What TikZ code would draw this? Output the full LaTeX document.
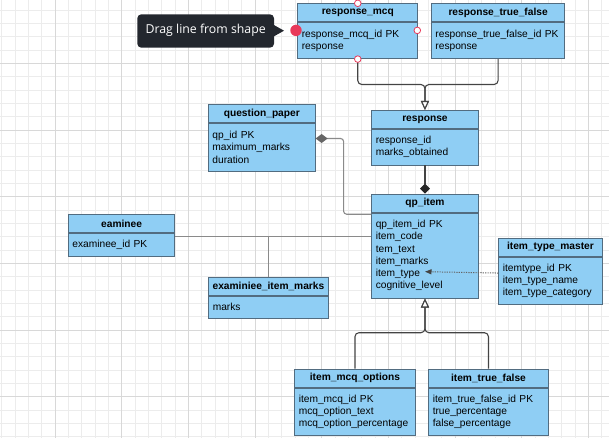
\documentclass[tikz,border=0pt]{standalone}
\usepackage{fontspec}
\setmainfont{Liberation Sans}
\newfontfamily\tipfont{Open Sans}
\usetikzlibrary{arrows.meta,positioning}
\definecolor{efill}{RGB}{143,206,244}
\definecolor{eline}{RGB}{82,108,128}
\definecolor{conndark}{RGB}{68,68,68}
\definecolor{conngray}{RGB}{138,138,138}
\definecolor{conndot}{RGB}{100,100,100}
\definecolor{gridminor}{RGB}{236,236,236}
\definecolor{gridmajor}{RGB}{216,216,216}
\definecolor{tipbg}{RGB}{35,39,46}
\definecolor{hotred}{RGB}{232,57,90}

\tikzset{
  head/.style={draw=eline, fill=efill, line width=0.9pt, anchor=north west,
    minimum height=18, inner sep=0, font=\fontsize{10.2}{12.2}\selectfont\bfseries},
  body/.style={draw=eline, fill=efill, line width=0.9pt, anchor=north,
    inner xsep=4, inner ysep=0, align=left, font=\fontsize{10.2}{12.2}\selectfont},
  darkline/.style={draw=conndark, line width=1.1pt},
  grayline/.style={draw=conngray, line width=1.1pt},
  dotline/.style={draw=conndot, line width=1pt, dash pattern=on 1.2pt off 1.2pt},
  opentri/.tip={Triangle[length=9pt,width=8pt,fill=white]},
  handle/.style={draw=hotred, fill=white, line width=0.8pt}
}

\begin{document}
\begin{tikzpicture}[x=1pt,y=-1pt]
    \useasboundingbox (0,0) rectangle (609,438);
    \clip (0,0) rectangle (609,438);
    % grid
    \foreach \i in {0,...,45}
        \draw[gridminor, line width=0.8pt] ({1.67+13.333*\i},0) -- ({1.67+13.333*\i},438);
    \foreach \j in {0,...,32}
        \draw[gridminor, line width=0.8pt] (0,{10+13.333*\j}) -- (609,{10+13.333*\j});
    \foreach \i in {0,...,9}
        \draw[gridmajor, line width=0.8pt] ({-11.67+66.667*\i},0) -- ({-11.67+66.667*\i},438);
    \foreach \j in {0,...,7}
        \draw[gridmajor, line width=0.8pt] (0,{-3.33+66.667*\j}) -- (609,{-3.33+66.667*\j});

    % tables
    \node[head, minimum width=120] (rmcqh) at (297.3,3.3) {response\_mcq};
    \node[body, text width=112, minimum height=36] (rmcq) at (rmcqh.south) {response\_mcq\_id PK\\response};
    \node[head, minimum width=133.3] (rtfh) at (431,3.3) {response\_true\_false};
    \node[body, text width=125.3, minimum height=36] (rtf) at (rtfh.south) {response\_true\_false\_id PK\\response};
    \node[head, minimum width=106.4] (resph) at (371.3,110) {response};
    \node[body, text width=98.4, minimum height=35.7] (resp) at (resph.south) {response\_id\\marks\_obtained};
    \node[head, minimum width=106.7] (qpaperh) at (208,104) {question\_paper};
    \node[body, text width=98.7, minimum height=48] (qpaper) at (qpaperh.south) {qp\_id PK\\maximum\_marks\\duration};
    \node[head, minimum width=106.4] (qpih) at (371.3,193.7) {qp\_item};
    \node[body, text width=98.4, minimum height=85] (qpi) at (qpih.south) {qp\_item\_id PK\\item\_code\\tem\_text\\item\_marks\\item\_type\\cognitive\_level};
    \node[head, minimum width=106.3] (eamh) at (68,214.3) {eaminee};
    \node[body, text width=98.3, minimum height=22.7] (eam) at (eamh.south) {examinee\_id PK};
    \node[head, minimum width=119.4] (eimh) at (208.3,276.7) {examiniee\_item\_marks};
    \node[body, text width=111.4, minimum height=22.3] (eim) at (eimh.south) {marks};
    \node[head, minimum width=103.4] (itmh) at (498.3,237.7) {item\_type\_master};
    \node[body, text width=95.4, minimum height=47.6] (itm) at (itmh.south) {itemtype\_id PK\\item\_type\_name\\item\_type\_category};
    \node[head, minimum width=120.4] (imcqh) at (294.3,368.7) {item\_mcq\_options};
    \node[body, text width=112.4, minimum height=47.3] (imcq) at (imcqh.south) {item\_mcq\_id PK\\mcq\_option\_text\\mcq\_option\_percentage};
    \node[head, minimum width=119.4] (itfh) at (428.3,368.7) {item\_true\_false};
    \node[body, text width=111.4, minimum height=47.3] (itf) at (itfh.south) {item\_true\_false\_id PK\\true\_percentage\\false\_percentage};

    % connectors
    \draw[darkline, rounded corners=4, -opentri] (rmcq.south) -- ++(0,25.4) -| (resph.north);
    \draw[darkline, rounded corners=4, -opentri] (rtf.south) -- ++(0,25.4) -| (resph.north);
    \draw[darkline, -{Diamond[length=10pt,width=10pt,color=black!85]}] (resp.south) -- (qpih.north);

    \coordinate (qpout) at ([yshift=8.85pt]qpaper.east);
    \coordinate (qpin) at ([yshift=-1.6pt]qpih.south west);
    \draw[grayline, rounded corners=3, {Diamond[length=12pt,width=9pt,color=black!60]}-] (qpout) -- ++(28,0) |- (qpin);

    \coordinate (eamout) at ([yshift=8.95pt]eam.east);
    \draw[grayline] (eamout) -- (eamout -| qpi.west);
    \draw[grayline] (eimh.north) -- (eimh.north |- eamout);

    \coordinate (itmout) at ([yshift=7.8pt]itm.west);
    \coordinate (itypeend) at (425,271.7);
    \draw[dotline, -{Triangle[length=6.5pt,width=5pt,color=conndark]}] (itmout) -- (itypeend);

    \draw[darkline, rounded corners=4, -opentri] (imcqh.north) -- ++(0,-36) -| (qpi.south);
    \draw[darkline, rounded corners=4, -opentri] (itfh.north) -- ++(0,-36) -| (qpi.south);

    % selection handles and tooltip
    \draw[handle] (rmcqh.north) circle (3.3pt);
    \draw[handle] (417.3,30.4) circle (3.3pt);
    \draw[handle] (rmcq.south) circle (3.3pt);
    \fill[hotred] (296,30.4) circle (5.7pt);
    \fill[tipbg, rounded corners=4] (137.3,14.3) rectangle (274,47.7);
    \fill[tipbg] (273.5,24.8) -- (284,30.7) -- (273.5,36.6) -- cycle;
    \node[text=white, inner sep=0, font=\tipfont\fontsize{12.3}{14}\selectfont] (tiptext) at (205.7,30.7) {Drag line from shape};
\end{tikzpicture}
\end{document}
